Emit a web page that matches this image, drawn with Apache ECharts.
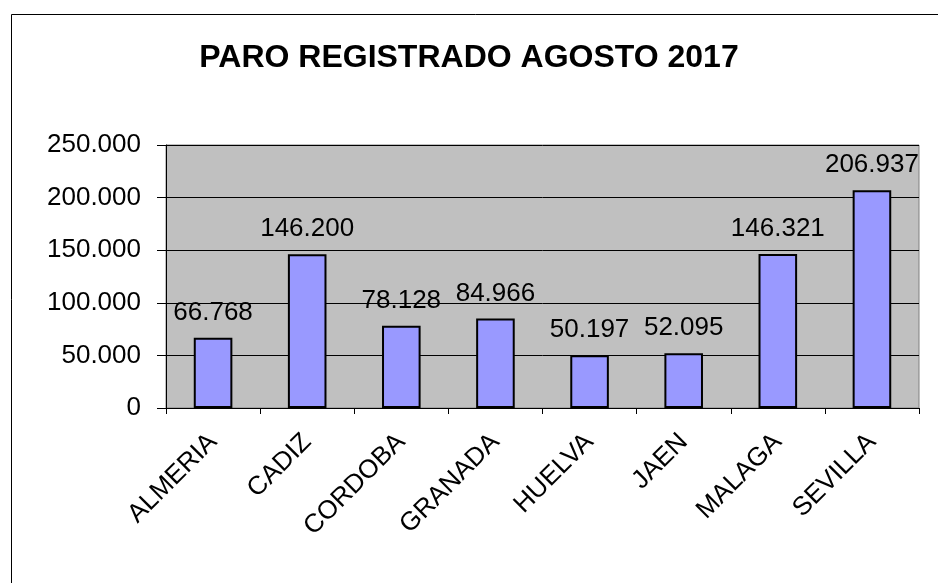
<!DOCTYPE html>
<html>
<head>
<meta charset="utf-8">
<script src="https://cdn.jsdelivr.net/npm/echarts@6/dist/echarts.min.js"></script>
<style>
html,body{margin:0;padding:0;background:#fff;}
#chart{width:938px;height:583px;}
</style>
</head>
<body>
<div id="chart"></div>
<script>
const titleText = 'PARO REGISTRADO AGOSTO 2017';
const categories = ['ALMERIA','CADIZ','CORDOBA','GRANADA','HUELVA','JAEN','MALAGA','SEVILLA'];
const values = [66768, 146200, 78128, 84966, 50197, 52095, 146321, 206937];
const yMin = 0, yMax = 250000, yStep = 50000;

function fmt(v){
  return String(Math.round(v)).replace(/\B(?=(\d{3})+(?!\d))/g, '.');
}

const chart = echarts.init(document.getElementById('chart'));
const FONT = '"Liberation Sans", Arial, sans-serif';
chart.setOption({
  backgroundColor: '#ffffff',
  animation: false,
  textStyle: {fontFamily: FONT},
  title: {
    text: titleText,
    left: 'center',
    top: 37,
    textStyle: {fontFamily: FONT, fontWeight: 'bold', fontSize: 32, color: '#000'}
  },
  graphic: [{
    type: 'rect',
    left: 9, top: 12,
    shape: {width: 1000, height: 1000},
    style: {fill: 'none', stroke: '#000', lineWidth: 1},
    silent: true
  }],
  grid: {
    left: 166, right: 19, top: 145, bottom: 175,
    show: true, backgroundColor: '#c0c0c0', borderColor: '#808080', borderWidth: 1
  },
  xAxis: {
    type: 'category',
    data: categories,
    axisLine: {lineStyle: {color: '#000', width: 1}},
    axisTick: {show: true, length: 6, lineStyle: {color: '#000'}},
    axisLabel: {rotate: 45, margin: 30, fontSize: 26, color: '#000', fontFamily: FONT, interval: 0}
  },
  yAxis: {
    type: 'value',
    min: yMin, max: yMax, interval: yStep,
    axisLine: {show: true, lineStyle: {color: '#000', width: 1}},
    axisTick: {show: true, length: 9, lineStyle: {color: '#000'}},
    splitLine: {show: true, lineStyle: {color: '#000', width: 1}},
    axisLabel: {fontSize: 26, color: '#000', margin: 25, fontFamily: FONT, formatter: fmt}
  },
  series: [{
    type: 'bar',
    data: values,
    barWidth: '41%',
    itemStyle: {color: '#9999ff', borderColor: '#000', borderWidth: 2},
    label: {show: true, position: 'top', distance: 12, fontSize: 26, color: '#000', fontFamily: FONT, formatter: p => fmt(p.value)}
  }]
});
</script>
</body>
</html>
